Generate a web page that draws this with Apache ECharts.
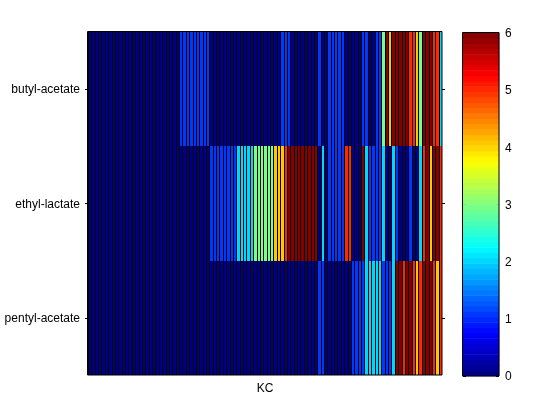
<!DOCTYPE html>
<html><head><meta charset="utf-8">
<script src="https://cdn.jsdelivr.net/npm/echarts@6/dist/echarts.min.js"></script>
<style>html,body{margin:0;padding:0;background:#fff}#c{width:560px;height:420px}</style></head>
<body><div id="c"></div>
<script>
const rowLabels = ['pentyl-acetate','ethyl-lactate','butyl-acetate'];
const colorbarTicks = [0,1,2,3,4,5,6];
const D = 0.05, B = 1.05, C = 2.0, G = 3.0, O = 4.05, R = 5.03, K = 5.95;
// one value per KC column (105 columns)
const butylAcetate = [
 D,D,D,D,D,D,D,D,D,D, D,D,D,D,D,D,D,D,D,D, D,D,D,D,D,D,D,
 B,B,B,B,B,B,B,B,B,
 D,D,D,D,D,D,D,D,D,D, D,D,D,D,D,D,D,D,D,D, D,
 B,B,B,
 D,D,D,D,D,D,D,D,
 B,D,D,
 B,B,B,B,B,
 D,D,D,D,D,
 B,B,D,D,B,B,G,K,O,K,K,K,K,K,R,R,O,G,K,K,K,R,R,C];
const ethylLactate = [
 D,D,D,D,D,D,D,D,D,D, D,D,D,D,D,D,D,D,D,D, D,D,D,D,D,D,D,D,D,D, D,D,D,D,D,D,
 B,B,B,B,B,B,B,B,
 C,C,C,C,C,
 G,G,G,G,G,G,
 O,O,O,R,
 K,K,K,K,K,K,K,K,K,
 D,C,D,
 B,B,B,B,B,
 R,R,D,D,D,K,C,B,B,B,B,C,D,D,C,B,D,D,D,B,D,D,C,R,K,O,K,K,R];
const pentylAcetate = [
 D,D,D,D,D,D,D,D,D,D, D,D,D,D,D,D,D,D,D,D, D,D,D,D,D,D,D,D,D,D,
 D,D,D,D,D,D,D,D,D,D, D,D,D,D,D,D,D,D,D,D, D,D,D,D,D,D,D,D,D,D,
 D,D,D,D,D,D,D,D,
 B,B,
 D,D,D,D,D,D,D,D,
 B,B,B,B,C,C,C,C,C,B,B,B,C,K,K,R,K,K,R,O,R,K,K,K,R,O,R];
const rows = [pentylAcetate, ethylLactate, butylAcetate];

// MATLAB jet, 64 levels
function jet(i){const t=(i+0.5)/64;const f=v=>Math.round(255*Math.max(0,Math.min(1,v)));
 return 'rgb('+f(1.5-Math.abs(4*t-3))+','+f(1.5-Math.abs(4*t-2))+','+f(1.5-Math.abs(4*t-1))+')';}
const pieces=[];for(let i=0;i<64;i++)pieces.push({min:i*6/64,max:(i+1)*6/64,color:jet(i)});

const heat=[];rows.forEach((r,y)=>r.forEach((v,x)=>heat.push([x,y,v])));
const barCats=[];const barData=[];for(let i=0;i<64;i++){barCats.push(i);barData.push([0,i,(i+0.5)*6/64]);}
const font='"Liberation Sans",Arial,sans-serif';
const richLabel={a:{fontFamily:font,fontSize:12,color:'#000',lineHeight:14,padding:[2,0,0,0]}};
function renderCell(params,api){
  const c=api.coord([api.value(0),api.value(1)]);const s=api.size([1,1]);
  const x0=Math.round(c[0]-s[0]/2),x1=Math.round(c[0]+s[0]/2);
  const y0=Math.round(c[1]-s[1]/2),y1=Math.round(c[1]+s[1]/2);
  return {type:'group',children:[
    {type:'rect',shape:{x:x0,y:y0,width:x1-x0,height:y1-y0},style:{fill:api.visual('color')}},
    {type:'rect',shape:{x:x0,y:y0,width:1,height:y1-y0},style:{fill:'#000'}}
  ]};
}
const chart=echarts.init(document.getElementById('c'),null,{renderer:'canvas'});
chart.setOption({
 animation:false,backgroundColor:'#fff',
 grid:[{left:88,top:32,width:354,height:343,show:false},
       {left:463,top:33,width:36,height:343,show:false}],
 xAxis:[{type:'category',gridIndex:0,data:butylAcetate.map((_,i)=>i),name:'KC',nameLocation:'middle',nameGap:8,
   nameTextStyle:{fontFamily:font,fontSize:12,color:'#000'},axisTick:{show:false},axisLabel:{show:false},axisLine:{show:false},splitLine:{show:false}},
  {type:'category',gridIndex:1,data:['c'],axisTick:{show:false},axisLabel:{show:false},axisLine:{show:false}}],
 yAxis:[{type:'category',gridIndex:0,data:rowLabels,axisLine:{show:false},position:'left',
   axisTick:{show:true,inside:false,alignWithLabel:true,length:3,lineStyle:{color:'#000'}},
   axisLabel:{formatter:'{a|{value}}',rich:richLabel,margin:8}},
  {type:'category',gridIndex:1,data:barCats,axisLine:{show:false},axisTick:{show:false},axisLabel:{show:false}},
  {type:'value',gridIndex:1,position:'right',min:0,max:6,interval:1,
   axisLine:{show:false},axisTick:{show:true,inside:true,length:3,lineStyle:{color:'#000'}},
   axisLabel:{formatter:'{a|{value}}',rich:richLabel,margin:6},splitLine:{show:false}},
  {type:'value',gridIndex:1,position:'left',min:0,max:6,interval:1,
   axisLine:{show:false},axisTick:{show:true,inside:true,length:3,lineStyle:{color:'#000'}},
   axisLabel:{show:false},splitLine:{show:false}},
  {type:'category',gridIndex:0,data:rowLabels,position:'right',axisLine:{show:false},
   axisTick:{show:true,inside:false,alignWithLabel:true,length:3,lineStyle:{color:'#000'}},axisLabel:{show:false}}],
 visualMap:{type:'piecewise',show:false,dimension:2,pieces:pieces,seriesIndex:[0,1]},
 series:[
  {type:'custom',xAxisIndex:0,yAxisIndex:0,data:heat,renderItem:renderCell,encode:{x:0,y:1},silent:true,clip:true},
  {type:'heatmap',xAxisIndex:1,yAxisIndex:1,data:barData,emphasis:{disabled:true},silent:true},
  {type:'line',xAxisIndex:1,yAxisIndex:2,data:[],silent:true},
  {type:'line',xAxisIndex:1,yAxisIndex:3,data:[],silent:true},
  {type:'line',xAxisIndex:0,yAxisIndex:4,data:[],silent:true}
 ],
 graphic:[
  {type:'rect',silent:true,z:100,shape:{x:87.5,y:31.5,width:354.5,height:343.5},style:{fill:'none',stroke:'#000',lineWidth:1}},
  {type:'rect',silent:true,z:100,shape:{x:462.5,y:32.5,width:36.5,height:343.5},style:{fill:'none',stroke:'#000',lineWidth:1}}
 ]
});
</script></body></html>
